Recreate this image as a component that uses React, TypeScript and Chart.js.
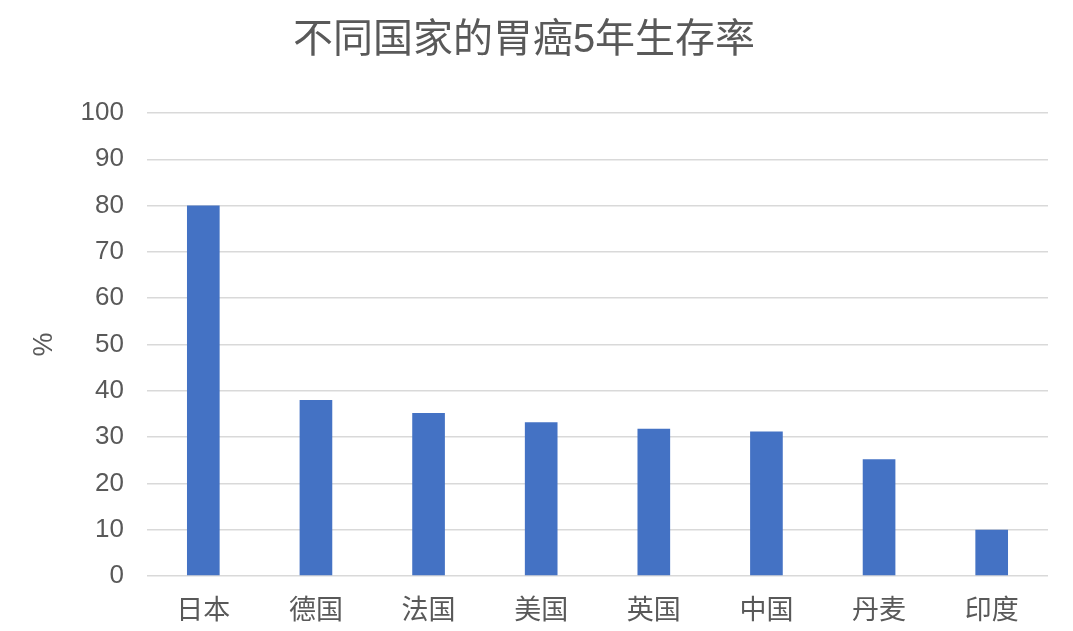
import React, { useEffect, useRef } from "react";
import Chart from "chart.js/auto";

const categories = ["日本", "德国", "法国", "美国", "英国", "中国", "丹麦", "印度"];
const survivalRates = [80, 38, 35.2, 33.2, 31.8, 31.2, 25.2, 10];
const chartTitle = "不同国家的胃癌5年生存率";
const yAxisTitle = "%";

const FONT = "'Liberation Sans', 'Noto Sans CJK SC', sans-serif";
const TEXT = "#595959";

const App = () => {
  const chartRef = useRef<HTMLCanvasElement | null>(null);
  const chartInstanceRef = useRef<Chart | null>(null);

  useEffect(() => {
    const ctx = chartRef.current?.getContext("2d");
    if (!ctx) return;

    if (chartInstanceRef.current) {
      chartInstanceRef.current.destroy();
    }

    chartInstanceRef.current = new Chart(ctx, {
      type: "bar",
      data: {
        labels: categories,
        datasets: [
          {
            label: "5年生存率",
            data: survivalRates,
            backgroundColor: "#4472C4",
            borderWidth: 0,
            categoryPercentage: 1,
            barPercentage: 0.29,
          },
        ],
      },
      options: {
        animation: false,
        responsive: false,
        layout: {
          padding: { top: 0, right: 25, bottom: 0, left: 0 },
        },
        scales: {
          x: {
            grid: { display: false, drawTicks: false },
            border: { display: false },
            ticks: {
              color: TEXT,
              padding: 19,
              font: { family: FONT, size: 27 },
            },
            // fixed height so the plot bottom sits where the reference has it
            afterFit: (scale: any) => {
              scale.height = 55;
            },
          },
          y: {
            min: 0,
            max: 100,
            border: { display: false },
            grid: {
              color: "#d9d9d9",
              lineWidth: 1.5,
              drawTicks: false,
            },
            ticks: {
              stepSize: 10,
              color: TEXT,
              padding: 23,
              font: { family: FONT, size: 26 },
            },
            title: {
              display: true,
              text: yAxisTitle,
              color: TEXT,
              padding: { top: 28, bottom: 3 },
              font: { family: FONT, size: 27 },
            },
            afterFit: (scale: any) => {
              scale.width = 147;
            },
          },
        },
        plugins: {
          legend: { display: false },
          tooltip: { enabled: false },
          title: {
            display: true,
            text: chartTitle,
            color: TEXT,
            padding: { top: 17, bottom: 48 },
            font: { family: FONT, size: 40, weight: "normal" },
          },
        },
      },
    });

    return () => {
      if (chartInstanceRef.current) {
        chartInstanceRef.current.destroy();
        chartInstanceRef.current = null;
      }
    };
  }, []);

  return (
    <div style={{ position: "fixed", left: 0, top: 0, width: 1073, height: 631, background: "#fff" }}>
      <canvas ref={chartRef} width={1073} height={631}></canvas>
    </div>
  );
};

export default App;
